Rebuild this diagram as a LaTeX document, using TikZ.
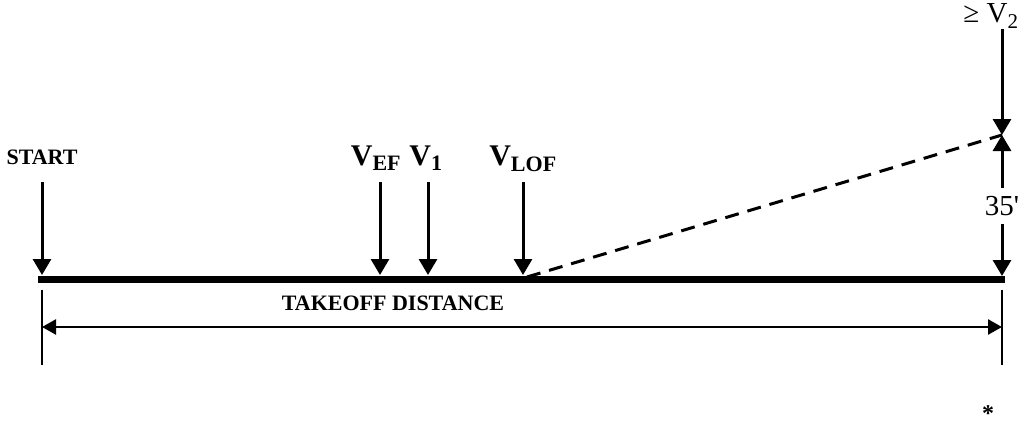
\documentclass[tikz,border=0pt]{standalone}
\usepackage{fontspec}
\setmainfont{Liberation Serif}
\newfontfamily\plainserif{Liberation Serif}
\usetikzlibrary{arrows.meta}
\begin{document}
\begin{tikzpicture}[x=1pt,y=-1pt,
  arr/.style={line width=3pt,-{Triangle[width=18pt,length=16pt]}},
  dim/.style={line width=2.5pt,{Triangle[width=15pt,length=14pt]}-{Triangle[width=15pt,length=14pt]}},
  ext/.style={line width=2.5pt},
  lbl/.style={font=\bfseries\fontsize{22}{22}\selectfont, inner sep=0pt},
  vlbl/.style={font=\bfseries\fontsize{30}{30}\selectfont, inner sep=0pt, anchor=base},
  rlbl/.style={font=\plainserif\fontsize{29}{29}\selectfont, inner sep=0pt}]
\useasboundingbox (0,0) rectangle (1028,426);
% runway
\coordinate (rwL) at (38,279);
\coordinate (rwR) at (1005,279);
\draw[line width=7pt] (rwL) -- (rwR);
% START
\node[lbl] (start) at (42,157) {START};
\coordinate (startTop) at (42,182);
\coordinate (startTip) at (42,275);
\draw[arr] (startTop) -- (startTip);
% V_EF
\node[vlbl] (vef) at (376,165) {V\textsubscript{\fontsize{22}{22}\selectfont EF}};
\coordinate (vefTop) at (380,182);
\coordinate (vefTip) at (380,275);
\draw[arr] (vefTop) -- (vefTip);
% V_1
\node[vlbl] (vone) at (426,165) {V\textsubscript{\fontsize{22}{22}\selectfont 1}};
\coordinate (voneTop) at (428,182);
\coordinate (voneTip) at (428,275);
\draw[arr] (voneTop) -- (voneTip);
% V_LOF
\node[vlbl] (vlof) at (523,165) {V\textsubscript{\fontsize{22}{22}\selectfont LOF}};
\coordinate (vlofTop) at (523,182);
\coordinate (vlofTip) at (523,275);
\draw[arr] (vlofTop) -- (vlofTip);
% climb path
\coordinate (climbEnd) at (1002,135);
\draw[line width=3pt,dash pattern=on 14pt off 9pt] (vlofTip) ++(4,2) coordinate (lof) (lof) -- (climbEnd);
% V2 label and arrows
\node[rlbl] (vtwo) at (991,16) {≥ V\textsubscript{\fontsize{21}{21}\selectfont 2}};
\coordinate (vtwoTop) at (1002,29);
\draw[arr] (vtwoTop) -- (climbEnd);
\node[rlbl] (ft) at (1002,206) {35'};
\draw[arr] (ft.north) ++(0,-8) coordinate (ftUp) (ftUp) -- (climbEnd);
\draw[arr] (ft.south) ++(0,8) coordinate (ftDn) (ftDn) -- (1002,276) coordinate (ftTip);
% takeoff distance
\node[lbl] (tod) at (393,303) {TAKEOFF DISTANCE};
\coordinate (extLtop) at (42,290);
\coordinate (extLbot) at (42,365);
\coordinate (extRtop) at (1002,290);
\coordinate (extRbot) at (1002,365);
\draw[ext] (extLtop) -- (extLbot);
\draw[ext] (extRtop) -- (extRbot);
\coordinate (dimL) at (42,327);
\coordinate (dimR) at (1002,327);
\draw[dim] (dimL) -- (dimR);
% asterisk
\node[font=\bfseries\fontsize{24}{24}\selectfont, inner sep=0pt, anchor=north] (ast) at (988,405) {*};
\end{tikzpicture}
\end{document}
